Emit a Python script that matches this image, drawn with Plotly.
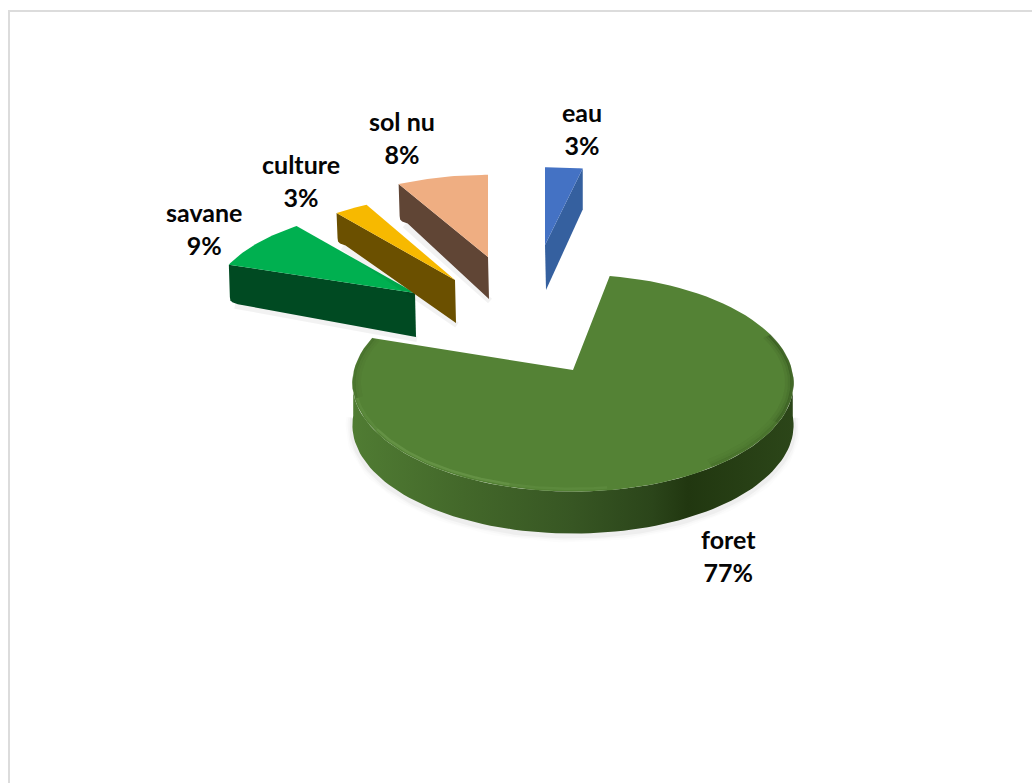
import math
import plotly.graph_objects as go

# Land-cover shares, clockwise from twelve o'clock
categories = ["eau", "foret", "savane", "culture", "sol nu"]
shares = [3, 77, 9, 3, 8]

top_colors = ["#4472c4", "#548235", "#00b050", "#f7b900", "#efae82"]
side_colors = ["#35609f", "#3a5a24", "#004a22", "#6b5000", "#604535"]

# Exploded geometry per slice: apex, radii, extrusion at apex and at rim
EXPLODE = {
    "eau":     dict(ax=545, ay=245, rx=225, ry=87, da=45, dr=41),
    "foret":   dict(ax=573, ay=370, rx=219, ry=107, da=42, dr=42),
    "savane":  dict(ax=415, ay=293, rx=203, ry=95, da=44, dr=38),
    "culture": dict(ax=455, ay=280, rx=203, ry=95, da=43, dr=31),
    "sol nu":  dict(ax=488, ay=257, rx=205, ry=92, da=42, dr=38),
}
LABELS = {
    "eau": (582, 128), "foret": (728, 555), "savane": (204, 228),
    "culture": (301, 180), "sol nu": (402, 137),
}
PERSPECTIVE = 0.12


def project(g, deg, inset=0.0):
    t = math.radians(deg)
    w = 1 + PERSPECTIVE * math.cos(t)
    return (g["ax"] + (g["rx"] - inset) * math.sin(t) / w,
            g["ay"] - (g["ry"] - inset) * math.cos(t) / w)


def arc(g, a0, a1, inset=0.0, n=90):
    pts = [project(g, a0 + (a1 - a0) * i / n, inset) for i in range(n + 1)]
    return [p[0] for p in pts], [p[1] for p in pts]


fig = go.Figure()


def polygon(xs, ys, color, **kw):
    fig.add_trace(go.Scatter(x=xs, y=ys, mode="lines", fill="toself", fillcolor=color,
                             line=dict(width=0), hoverinfo="skip", showlegend=False, **kw))


def stroke(xs, ys, color, width):
    fig.add_trace(go.Scatter(x=xs, y=ys, mode="lines", line=dict(color=color, width=width),
                             hoverinfo="skip", showlegend=False))


# Cumulative sweep angles from the shares
total = sum(shares)
spans = {}
cursor = 0.0
for name, value in zip(categories, shares):
    spans[name] = (cursor, cursor + 360.0 * value / total)
    cursor += 360.0 * value / total

for name, top, side in zip(categories, top_colors, side_colors):
    g = EXPLODE[name]
    a0, a1 = spans[name]
    if name == "foret":
        # Soft ground shadow below the front wall
        bx, by = arc(g, 92, 268)
        for width, alpha in ((14, 0.012), (10, 0.02), (6, 0.035)):
            stroke(bx, [y + g["dr"] + 2 for y in by], f"rgba(0,0,0,{alpha})", width)
        # Curved front wall, lit from the left
        polygon(bx + bx[::-1], [y + g["dr"] for y in by] + by[::-1], side,
                fillgradient=dict(type="horizontal", start=352, stop=794, colorscale=[
                    [0.0, "#507c33"], [0.25, "#43682a"], [0.5, "#375623"],
                    [0.68, "#2b451a"], [0.76, "#213710"], [1.0, "#2c4619"]]))
        tx, ty = arc(g, a0, a1)
        polygon([g["ax"]] + tx + [g["ax"]], [g["ay"]] + ty + [g["ay"]], top)
        # Bevelled rim of the top face: a dark fringe on the right, a faint glint at the front
        for inset, alpha in ((1.5, 0.30), (4, 0.16), (7, 0.07)):
            rx, ry = arc(g, 118, 70, inset=inset, n=30)
            stroke(rx, ry, f"rgba(25,45,10,{alpha})", 3)
            rx, ry = arc(g, 145, 118, inset=inset, n=30)
            stroke(rx, ry, f"rgba(25,45,10,{alpha * 0.5})", 3)
            rx, ry = arc(g, 288, 255, inset=inset, n=30)
            stroke(rx, ry, f"rgba(25,45,10,{alpha * 0.45})", 3)
        for s0, s1, color in ((255, 238, "rgba(125,170,95,0.18)"),
                              (238, 195, "rgba(125,170,95,0.38)"),
                              (195, 172, "rgba(125,170,95,0.18)")):
            rx, ry = arc(g, s0, s1, inset=2.5, n=30)
            stroke(rx, ry, color, 2.5)
    else:
        # Only the cut wall facing the viewer shows on the small exploded slices
        edge = a0 if math.sin(math.radians((a0 + a1) / 2)) < 0 else a1
        ex, ey = project(g, edge)
        if edge == a0:
            # Rounded lower corner where the cut wall meets the rim, with a faint shadow
            fx = [ex + 1, ex + 1.5, ex + 3.5, ex + 9]
            fy = [ey + g["dr"] - 6, ey + g["dr"] - 2.5, ey + g["dr"] - 0.5, ey + g["dr"] + 1.5]
            stroke([ex + 6, g["ax"] + 2], [ey + g["dr"] + 3, g["ay"] + g["da"] + 2],
                   "rgba(0,0,0,0.05)", 6)
        else:
            fx = [ex]
            fy = [ey + g["dr"]]
        wx = [ex, g["ax"], g["ax"] + 1] + fx[::-1]
        wy = [ey, g["ay"], g["ay"] + g["da"]] + fy[::-1]
        polygon(wx + [wx[0]], wy + [wy[0]], side)
        tx, ty = arc(g, a0, a1, n=30)
        polygon([g["ax"]] + tx + [g["ax"]], [g["ay"]] + ty + [g["ay"]], top)

annotations = [
    dict(x=LABELS[name][0], y=LABELS[name][1], text=f"{name}<br>{value}%", showarrow=False,
         xref="x", yref="y", align="center",
         font=dict(family="Lato", size=25, color="#050505", weight="bold"))
    for name, value in zip(categories, shares)
]

fig.update_layout(
    width=1032, height=783, margin=dict(l=0, r=0, t=0, b=0),
    paper_bgcolor="white", plot_bgcolor="white", showlegend=False,
    xaxis=dict(range=[0, 1032], visible=False, fixedrange=True),
    yaxis=dict(range=[783, 0], visible=False, fixedrange=True),
    annotations=annotations,
    # Page frame: only the top and left rules fall inside the view
    shapes=[
        dict(type="line", xref="x", yref="y", x0=8, y0=11, x1=1032, y1=11,
             line=dict(color="#dcdcdc", width=2), layer="below"),
        dict(type="line", xref="x", yref="y", x0=9, y0=10, x1=9, y1=783,
             line=dict(color="#dcdcdc", width=2), layer="below"),
    ],
)

fig.write_html("out.html", config=dict(displayModeBar=False))
